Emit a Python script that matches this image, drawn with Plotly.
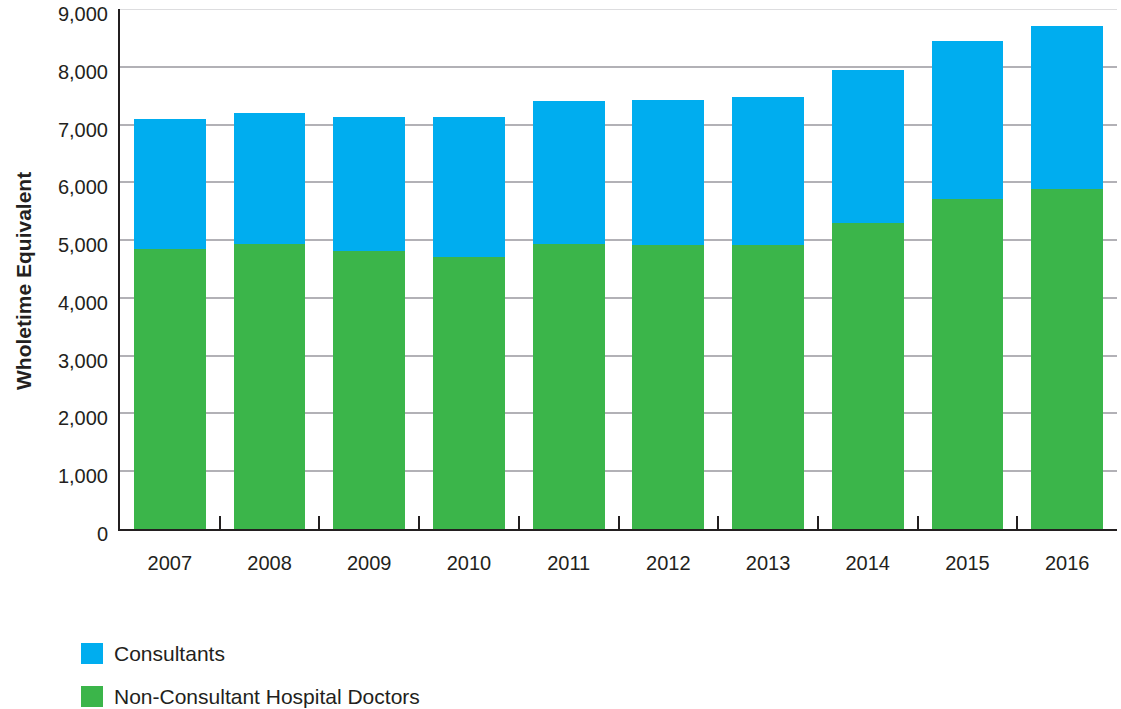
import plotly.graph_objects as go

years = ["2007", "2008", "2009", "2010", "2011", "2012", "2013", "2014", "2015", "2016"]
non_consultants = [4850, 4940, 4805, 4710, 4940, 4910, 4920, 5300, 5710, 5890]
totals = [7100, 7200, 7135, 7135, 7410, 7430, 7480, 7945, 8450, 8710]
consultants = [t - n for t, n in zip(totals, non_consultants)]

series_names = ["Consultants", "Non-Consultant Hospital Doctors"]
y_ticks = list(range(0, 9001, 1000))

BLUE = "#00adef"
GREEN = "#3bb54a"
TEXT = "#231f20"
GRID = "#b2b1b6"
FONT = "Liberation Sans, Arial, sans-serif"

W, H = 1121, 709
L, R, T, B = 120, 4, 9, 180
PW, PH = W - L - R, H - T - B


def px_x(px):
    return (px - L) / PW


def px_y(py):
    return (H - B - py) / PH


fig = go.Figure()
fig.add_trace(go.Bar(x=years, y=non_consultants, name=series_names[1],
                     marker=dict(color=GREEN, line=dict(width=0)), showlegend=False))
fig.add_trace(go.Bar(x=years, y=consultants, name=series_names[0],
                     marker=dict(color=BLUE, line=dict(width=0)), showlegend=False))

# legend drawn as swatches + labels below the plot
shapes = []
annotations = []
for (top, bottom), label, color in [((643, 664), series_names[0], BLUE),
                                    ((686, 707), series_names[1], GREEN)]:
    shapes.append(dict(type="rect", xref="paper", yref="paper",
                       x0=px_x(81), x1=px_x(103), y0=px_y(bottom), y1=px_y(top),
                       fillcolor=color, line=dict(width=0), layer="above"))
    annotations.append(dict(xref="paper", yref="paper", x=px_x(112), y=px_y((top + bottom) / 2),
                            text=label, showarrow=False, xanchor="left", yanchor="middle",
                            font=dict(family=FONT, size=21, color=TEXT)))

# lighter rule along the top of the plot area
shapes.append(dict(type="line", xref="paper", yref="y", x0=0, x1=1, y0=y_ticks[-1], y1=y_ticks[-1],
                   line=dict(color="#d2d2d4", width=1.5), layer="below"))

# y-axis title
annotations.append(dict(xref="paper", yref="paper", x=px_x(24), y=px_y(281),
                        text="<b>Wholetime Equivalent</b>", textangle=-90, showarrow=False,
                        xanchor="center", yanchor="middle",
                        font=dict(family=FONT, size=21, color=TEXT)))

fig.update_layout(
    width=W, height=H,
    margin=dict(l=L, r=R, t=T, b=B, pad=0, autoexpand=False),
    plot_bgcolor="white", paper_bgcolor="white",
    barmode="stack", bargap=0.28,
    showlegend=False,
    font=dict(family=FONT, size=20, color=TEXT),
    shapes=shapes, annotations=annotations,
)
fig.update_xaxes(
    type="category", showline=True, linecolor=TEXT, linewidth=2, automargin=False,
    ticks="inside", tickson="boundaries", ticklen=13, tickwidth=2, tickcolor=TEXT,
    showgrid=False, tickfont=dict(family=FONT, size=20, color=TEXT),
    ticklabelstandoff=15,
)
fig.update_yaxes(
    range=[0, 9000], tickvals=y_ticks, tickformat=",", showline=True, linecolor=TEXT, linewidth=2,
    showgrid=True, gridcolor=GRID, gridwidth=1.5, zeroline=False, automargin=False,
    ticks="", ticklabelstandoff=6, ticklabelshift=5, ticklabeloverflow="allow",
    tickfont=dict(family=FONT, size=20, color=TEXT),
)

fig.write_html("out.html")
